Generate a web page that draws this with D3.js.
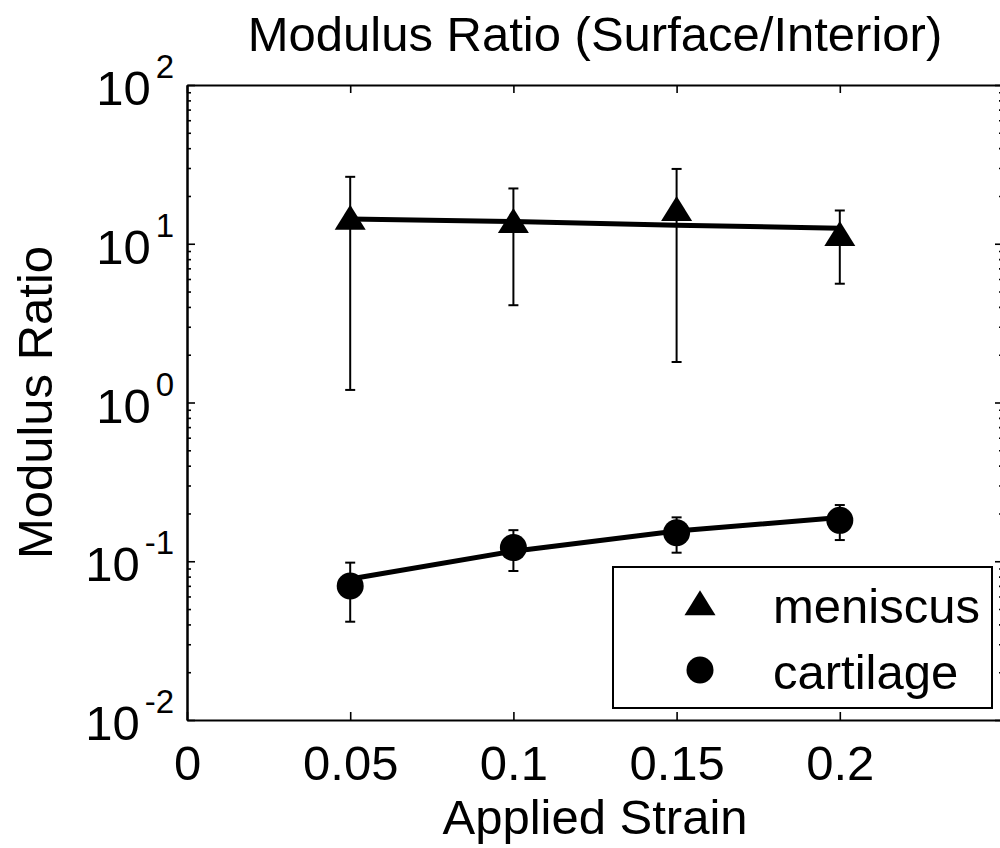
<!DOCTYPE html>
<html>
<head>
<meta charset="utf-8">
<script src="https://cdn.jsdelivr.net/npm/d3@7"></script>
<style>
  html, body { margin: 0; padding: 0; background: #fff; }
  svg { display: block; font-family: "Liberation Sans", Arial, Helvetica, sans-serif; }
</style>
</head>
<body>
<svg id="chart" width="1000" height="848"></svg>
<script>
// Applied strain levels (x positions of the measurements)
const strains = [0.05, 0.1, 0.15, 0.2];

// Meniscus: mean modulus ratio, standard deviation, fitted trend
const meniscusMean = [13.8, 13.2, 15.7, 10.9];
const meniscusSD   = [12.6, 9.1, 13.9, 5.3];
const meniscusFit  = [14.3, 13.8, 13.1, 12.5];

// Cartilage: mean modulus ratio, standard deviation, fitted trend
const cartilageMean = [0.0698, 0.1219, 0.1511, 0.181];
const cartilageSD   = [0.0282, 0.0351, 0.0379, 0.045];
const cartilageFit  = [0.0773, 0.1156, 0.155, 0.1887];

// Axis ticks
const xTickValues = [0, 0.05, 0.1, 0.15, 0.2];
const xTickLabels = ["0", "0.05", "0.1", "0.15", "0.2"];
const yDecades = [0.01, 0.1, 1, 10, 100];
const yExponents = ["-2", "-1", "0", "1", "2"];

const legendNames = ["meniscus", "cartilage"];

(function draw() {
  const FONT = 49;
  const svg = d3.select("#chart");

  const pLeft = 187, pRight = 1003, pTop = 85, pBottom = 720;
  const x = d3.scaleLinear().domain([0, 0.25]).range([pLeft, pRight]);
  const y = d3.scaleLog().domain([0.01, 100]).range([pBottom, pTop]);

  // minor log ticks 2..9 in every decade
  const yMinor = [];
  yDecades.slice(0, -1).forEach(d => { for (let k = 2; k <= 9; k++) yMinor.push(d * k); });

  function styleAxis(g) {
    g.attr("font-size", null).attr("font-family", null);
    g.selectAll("path.domain").attr("stroke", "#000").attr("stroke-width", 2);
    g.selectAll(".tick line").attr("stroke", "#000").attr("stroke-width", 1.6);
  }

  // bottom axis with labels
  const gx = svg.append("g").attr("transform", `translate(0,${pBottom})`)
    .call(d3.axisBottom(x).tickValues(xTickValues)
      .tickFormat((d, i) => xTickLabels[i]).tickSize(-8).tickSizeOuter(0).tickPadding(25));
  styleAxis(gx);
  gx.selectAll(".tick text").attr("font-size", FONT).attr("fill", "#000");

  // top axis
  const gt = svg.append("g").attr("transform", `translate(0,${pTop})`)
    .call(d3.axisTop(x).tickValues(xTickValues).tickFormat("").tickSize(-8).tickSizeOuter(0));
  styleAxis(gt);

  // left axis: major + minor ticks
  const gl = svg.append("g").attr("transform", `translate(${pLeft},0)`)
    .call(d3.axisLeft(y).tickValues(yDecades).tickFormat("").tickSize(-8).tickSizeOuter(0));
  styleAxis(gl);
  const glm = svg.append("g").attr("transform", `translate(${pLeft},0)`)
    .call(d3.axisLeft(y).tickValues(yMinor).tickFormat("").tickSize(-4).tickSizeOuter(0));
  styleAxis(glm);

  // right axis: major + minor ticks
  const gr = svg.append("g").attr("transform", `translate(${pRight},0)`)
    .call(d3.axisRight(y).tickValues(yDecades).tickFormat("").tickSize(-8).tickSizeOuter(0));
  styleAxis(gr);
  const grm = svg.append("g").attr("transform", `translate(${pRight},0)`)
    .call(d3.axisRight(y).tickValues(yMinor).tickFormat("").tickSize(-4).tickSizeOuter(0));
  styleAxis(grm);

  // power-of-ten labels on the y axis
  const yl = svg.append("g");
  yDecades.forEach((d, i) => {
    const t = yl.append("text")
      .attr("x", 174).attr("y", y(d) + 20)
      .attr("text-anchor", "end")
      .attr("font-size", FONT).attr("fill", "#000")
      .text("10");
    t.append("tspan").attr("dx", 5).attr("dy", -27).attr("font-size", 33).text(yExponents[i]);
  });

  // titles
  svg.append("text").attr("x", (pLeft + pRight) / 2).attr("y", 51)
    .attr("text-anchor", "middle").attr("font-size", FONT)
    .text("Modulus Ratio (Surface/Interior)");
  svg.append("text").attr("x", (pLeft + pRight) / 2).attr("y", 834)
    .attr("text-anchor", "middle").attr("font-size", FONT)
    .text("Applied Strain");
  svg.append("text")
    .attr("transform", `translate(52,${(pTop + pBottom) / 2}) rotate(-90)`)
    .attr("text-anchor", "middle").attr("font-size", FONT)
    .text("Modulus Ratio");

  // markers
  const triPath = "M0,-16.7 L15.5,8.3 L-15.5,8.3 Z";
  function drawMarker(g, kind, cx, cy) {
    if (kind === "tri") {
      g.append("path").attr("d", triPath)
        .attr("transform", `translate(${cx},${cy})`).attr("fill", "#000");
    } else {
      g.append("circle").attr("cx", cx).attr("cy", cy).attr("r", 13.5).attr("fill", "#000");
    }
  }

  const series = [
    { mean: meniscusMean, sd: meniscusSD, fit: meniscusFit, kind: "tri" },
    { mean: cartilageMean, sd: cartilageSD, fit: cartilageFit, kind: "circ" }
  ];

  const plot = svg.append("g");
  const line = d3.line().x(d => x(d[0])).y(d => y(d[1]));

  series.forEach(s => {
    // error bars
    const eb = plot.append("g").attr("stroke", "#000").attr("stroke-width", 2);
    strains.forEach((st, i) => {
      const cx = x(st);
      const y1 = y(s.mean[i] + s.sd[i]), y0 = y(s.mean[i] - s.sd[i]);
      eb.append("line").attr("x1", cx).attr("x2", cx).attr("y1", y1).attr("y2", y0);
      eb.append("line").attr("x1", cx - 5).attr("x2", cx + 5).attr("y1", y1).attr("y2", y1);
      eb.append("line").attr("x1", cx - 5).attr("x2", cx + 5).attr("y1", y0).attr("y2", y0);
    });
    // fitted trend
    plot.append("path")
      .attr("d", line(strains.map((st, i) => [st, s.fit[i]])))
      .attr("fill", "none").attr("stroke", "#000").attr("stroke-width", 5);
    // mean markers
    const mg = plot.append("g");
    strains.forEach((st, i) => drawMarker(mg, s.kind, x(st), y(s.mean[i])));
  });

  // legend
  const lg = svg.append("g");
  lg.append("rect").attr("x", 613).attr("y", 567).attr("width", 379).attr("height", 141)
    .attr("fill", "#fff").attr("stroke", "#000").attr("stroke-width", 2);
  drawMarker(lg, "tri", 700, 607);
  drawMarker(lg, "circ", 700, 670);
  lg.append("text").attr("x", 773).attr("y", 623).attr("font-size", FONT).text(legendNames[0]);
  lg.append("text").attr("x", 773).attr("y", 689).attr("font-size", FONT).text(legendNames[1]);
})();
</script>
</body>
</html>
